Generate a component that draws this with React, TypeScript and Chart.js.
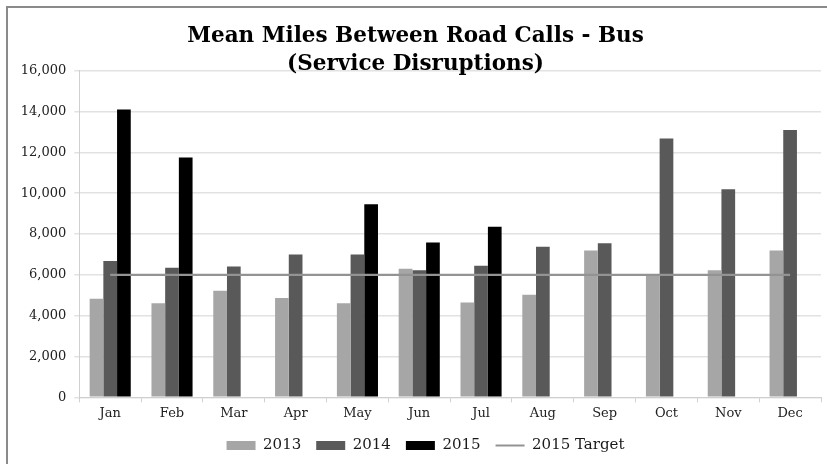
import React, { useEffect, useRef } from "react";
import { Chart, registerables } from "chart.js";

Chart.register(...registerables);

const months = ["Jan", "Feb", "Mar", "Apr", "May", "Jun", "Jul", "Aug", "Sep", "Oct", "Nov", "Dec"];
const values2013 = [4830, 4610, 5220, 4860, 4610, 6300, 4650, 5030, 7190, 6010, 6230, 7190];
const values2014 = [6680, 6350, 6410, 7000, 7000, 6230, 6440, 7370, 7550, 12680, 10190, 13090];
const values2015 = [14100, 11750, null, null, 9460, 7580, 8360, null, null, null, null, null];
const target2015 = [6000, 6000, 6000, 6000, 6000, 6000, 6000, 6000, 6000, 6000, 6000, 6000];
const titleLines = ["Mean Miles Between Road Calls - Bus", "(Service Disruptions)"];
const seriesNames = ["2013", "2014", "2015", "2015 Target"];

const CHART_LEFT = 79.3;
const CHART_TOP = 70.7;
const CHART_BOTTOM = 394.3;

const shiftLegend = {
  id: "shiftLegend",
  afterLayout(chart: any) {
    if (chart.legend) {
      chart.legend.left += 10;
      chart.legend.right += 10;
    }
  },
};

export default function App() {
  const ref = useRef<HTMLCanvasElement | null>(null);

  useEffect(() => {
    const canvas = ref.current;
    if (!canvas) return;
    const padLeft = 10;
    const chart = new Chart(canvas, {
      data: {
        labels: months,
        datasets: [
          {
            type: "bar",
            label: seriesNames[0],
            data: values2013,
            backgroundColor: "#a6a6a6",
            barPercentage: 1,
            categoryPercentage: 0.665,
            order: 1,
          },
          {
            type: "bar",
            label: seriesNames[1],
            data: values2014,
            backgroundColor: "#595959",
            barPercentage: 1,
            categoryPercentage: 0.665,
            order: 1,
          },
          {
            type: "bar",
            label: seriesNames[2],
            data: values2015,
            backgroundColor: "#000000",
            barPercentage: 1,
            categoryPercentage: 0.665,
            order: 1,
          },
          {
            type: "line",
            label: seriesNames[3],
            data: target2015,
            borderColor: "#939393",
            backgroundColor: "#939393",
            borderWidth: 2.2,
            pointRadius: 0,
            fill: false,
            order: 0,
          },
        ],
      } as any,
      options: {
        responsive: false,
        animation: false,
        layout: { padding: { left: padLeft, right: 6, top: 0, bottom: 1 } },
        plugins: {
          tooltip: { enabled: false },
          title: {
            display: true,
            text: titleLines,
            color: "#000",
            font: { family: "'DejaVu Serif'", size: 21.5, weight: "bold", lineHeight: 28 / 21.5 },
            padding: { top: 22, bottom: CHART_TOP - 22 - 56 },
          },
          legend: {
            position: "bottom",
            labels: {
              usePointStyle: true,
              pointStyleWidth: 29,
              boxHeight: 9,
              padding: 15,
              color: "#1a1a1a",
              font: { family: "'DejaVu Serif'", size: 15 },
              generateLabels: (c: any) => {
                const items = (Chart.defaults.plugins.legend.labels as any).generateLabels(c);
                items.sort((a: any, b: any) => a.datasetIndex - b.datasetIndex);
                items.forEach((it: any) => {
                  if (it.datasetIndex === 3) {
                    it.pointStyle = "line";
                    it.strokeStyle = "#939393";
                    it.lineWidth = 2;
                  } else {
                    it.pointStyle = "rect";
                    it.lineWidth = 0;
                  }
                });
                return items;
              },
            },
          },
        },
        scales: {
          x: {
            grid: {
              display: true,
              drawOnChartArea: false,
              drawTicks: true,
              tickLength: 5,
              color: "#cfcfcf",
              offset: true,
            },
            border: { color: "#cfcfcf" },
            ticks: {
              color: "#222",
              padding: 4,
              font: { family: "'DejaVu Serif'", size: 13 },
            },
            afterFit: (scale: any) => {
              scale.height = 420 - CHART_BOTTOM;
            },
          },
          y: {
            min: 0,
            max: 16000,
            ticks: {
              stepSize: 2000,
              color: "#222",
              padding: 8,
              font: { family: "'DejaVu Serif'", size: 13 },
              callback: (v: any) => Number(v).toLocaleString("en-US"),
            },
            grid: { color: "#e2e2e2", tickLength: 5, lineWidth: 1.5 },
            border: { color: "#cfcfcf" },
            afterFit: (scale: any) => {
              scale.width = CHART_LEFT - padLeft;
            },
          },
        },
      } as any,
      plugins: [shiftLegend],
    });
    return () => chart.destroy();
  }, []);

  return (
    <div style={{ position: "fixed", left: 0, top: 0, width: 827, height: 464, background: "#fff" }}>
      <div
        style={{
          position: "absolute",
          left: 6,
          top: 6,
          right: -10,
          bottom: -10,
          borderLeft: "2px solid #8a8a8a",
          borderTop: "2px solid #8a8a8a",
        }}
      />
      <canvas ref={ref} width={827} height={464} style={{ position: "absolute", left: 0, top: 0, display: "block" }} />
    </div>
  );
}
